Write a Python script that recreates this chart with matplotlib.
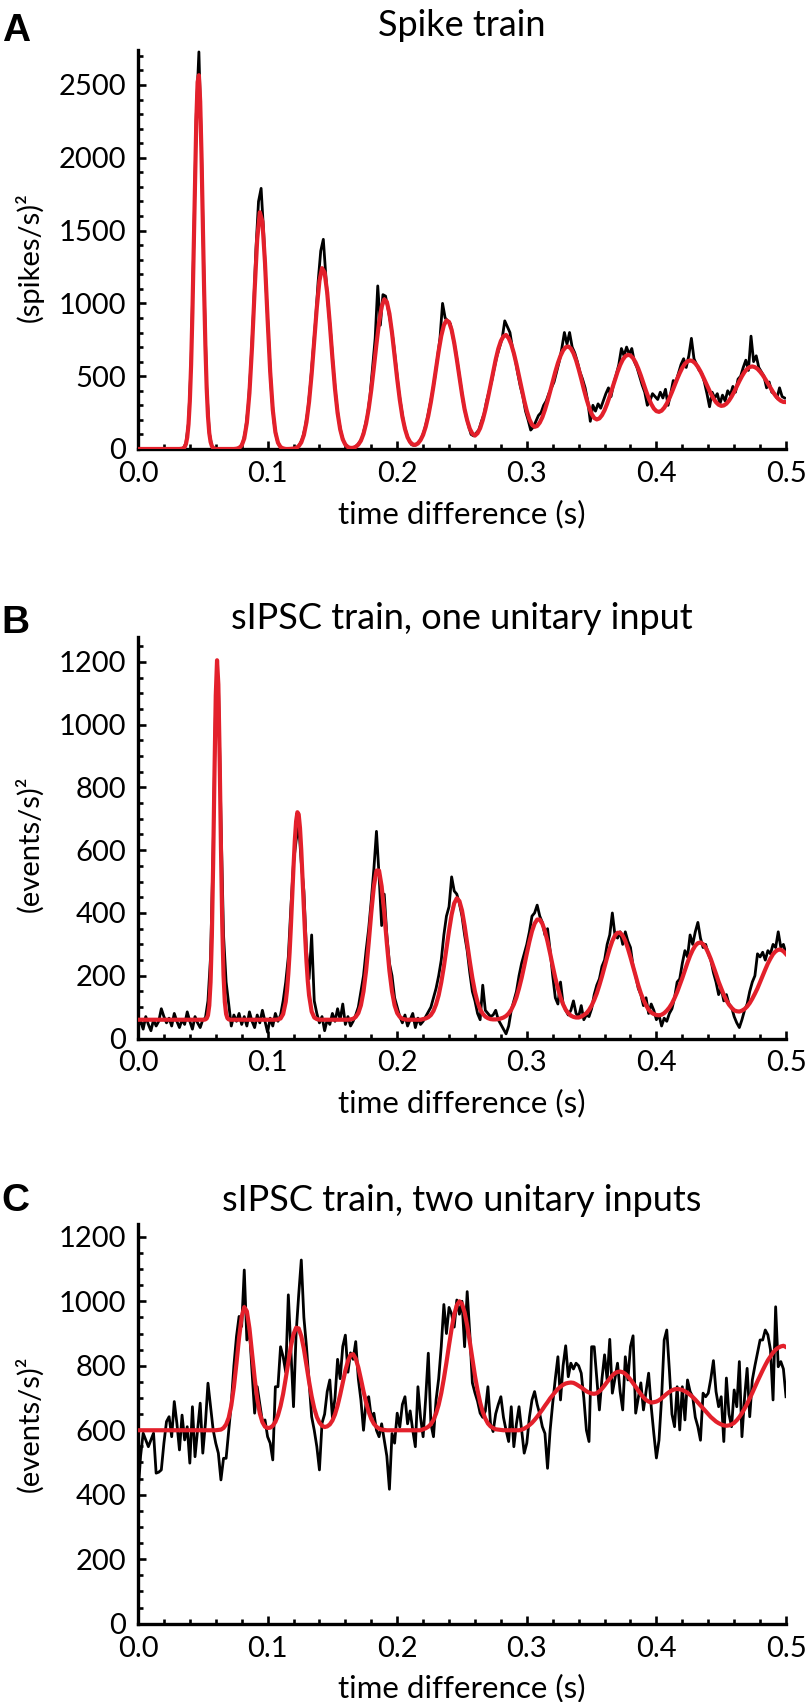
import numpy as np
import matplotlib.pyplot as plt
from matplotlib.ticker import MultipleLocator

plt.rcParams['font.family'] = ['Lato', 'DejaVu Sans']

RED = '#e3202b'


def seg(start, step, n):
    return start + step * np.arange(n)


# ---------------- A: spike train ----------------
# black: autocorrelation, 2 ms bins centred on odd ms
spike_acf = [
    0, 0, 0, 0, 0, 0, 0, 0, 0, 0,
    0, 0, 0, 0, 0, 0, 0, 5, 40, 180,
    600, 1400, 2300, 2727, 2050, 1120, 430, 110, 20, 0,
    0, 0, 0, 0, 0, 0, 0, 0, 5, 15,
    45, 130, 290, 560, 920, 1370, 1700, 1790, 1480, 1080,
    720, 380, 180, 70, 25, 5, 0, 0, 0, 0,
    5, 10, 35, 75, 150, 260, 440, 660, 880, 1150,
    1360, 1440, 1180, 960, 760, 520, 330, 190, 100, 45,
    20, 5, 0, 10, 25, 45, 80, 150, 230, 360,
    560, 760, 1120, 850, 1060, 1050, 960, 860, 740, 580,
    410, 290, 180, 110, 60, 30, 25, 35, 50, 80,
    130, 200, 290, 380, 490, 620, 760, 1000, 900, 880,
    860, 770, 680, 560, 440, 320, 230, 160, 100, 90,
    110, 130, 190, 240, 330, 400, 470, 560, 640, 700,
    760, 880, 840, 800, 690, 620, 520, 430, 360, 260,
    200, 130, 150, 190, 230, 250, 300, 330, 380, 420,
    460, 530, 600, 690, 800, 720, 800, 700, 660, 600,
    530, 480, 420, 330, 190, 300, 260, 310, 280, 330,
    380, 420, 360, 450, 510, 580, 690, 640, 700, 650,
    690, 600, 560, 500, 440, 390, 300, 330, 380, 360,
    340, 390, 350, 410, 300, 380, 470, 460, 520, 580,
    620, 560, 640, 760, 620, 580, 540, 520, 460, 380,
    290, 390, 350, 380, 310, 370, 330, 400, 370, 430,
    390, 480, 500, 560, 610, 540, 775, 600, 640, 560,
    530, 500, 420, 460, 390, 380, 350, 420, 360, 350,
]
spike_t = seg(0.001, 0.002, len(spike_acf))

# red fit, pieces: 2 ms from 0, 1 ms around first peak, 2 ms from 0.064
spike_fit_1 = [0] * 15
spike_fit_2 = [0, 0, 0, 0, 1, 2, 5, 13, 34, 80, 170, 328, 580, 935, 1375, 1843, 2257,
               2520, 2567, 2385, 2021, 1563, 1103, 709, 417, 223, 109, 49, 20, 7, 2, 0, 0, 0]
spike_fit_3 = [
    0, 0, 0, 0, 0, 0, 2, 7, 24, 72,
    180, 385, 702, 1090, 1442, 1626, 1562, 1279, 892, 531,
    269, 116, 43, 13, 4, 0, 0, 1, 3, 7,
    19, 45, 96, 185, 324, 516, 744, 973, 1155, 1242,
    1212, 1073, 861, 627, 414, 248, 135, 66, 30, 13,
    7, 8, 15, 30, 57, 104, 175, 276, 406, 560,
    721, 868, 977, 1028, 1011, 929, 798, 641, 481, 338,
    221, 138, 80, 47, 31, 28, 38, 61, 97, 153,
    228, 323, 434, 555, 674, 777, 850, 883, 872, 818,
    728, 616, 494, 377, 273, 197, 139, 105, 92, 108,
    143, 198, 268, 350, 438, 528, 614, 688, 742, 774,
    783, 761, 719, 658, 583, 500, 415, 333, 261, 204,
    167, 152, 158, 181, 218, 269, 329, 395, 464, 530,
    590, 640, 677, 699, 704, 690, 658, 610, 549, 482,
    411, 345, 287, 241, 213, 203, 210, 232, 266, 311,
    363, 419, 476, 529, 576, 613, 637, 647, 642, 624,
    593, 552, 504, 451, 398, 350, 309, 278, 260, 255,
    263, 283, 312, 349, 391, 436, 481, 522, 558, 585,
    602, 608, 603, 588, 564, 533, 496, 457, 417, 380,
    347, 321, 304, 296, 299, 311, 332, 360, 393, 430,
    466, 500, 529, 550, 563, 567, 562, 550, 531, 508,
    480, 450, 420, 391, 365, 345, 331, 323, 322,
]
spike_fit = spike_fit_1 + spike_fit_2 + spike_fit_3
spike_fit_t = np.concatenate([seg(0.0, 0.002, len(spike_fit_1)),
                              seg(0.029, 0.001, len(spike_fit_2)),
                              seg(0.064, 0.002, len(spike_fit_3))])

# ---------------- B: sIPSC, one unitary input ----------------
one_acf = [
    40, 55, 30, 70, 45, 25, 60, 40, 55, 95,
    70, 50, 65, 40, 80, 55, 35, 60, 45, 85,
    55, 30, 70, 50, 35, 60, 65, 120, 260, 600,
    1100, 1150, 700, 330, 180, 110, 40, 75, 55, 80,
    45, 70, 40, 85, 55, 35, 75, 50, 90, 55,
    20, 65, 40, 80, 55, 75, 120, 180, 260, 420,
    560, 630, 680, 560, 470, 280, 190, 330, 120, 80,
    50, 70, 25, 60, 45, 80, 55, 95, 60, 110,
    45, 70, 40, 55, 75, 100, 150, 200, 280, 350,
    440, 540, 660, 520, 360, 460, 330, 240, 200, 130,
    100, 70, 50, 75, 40, 60, 80, 35, 65, 45,
    55, 70, 85, 100, 130, 160, 200, 250, 330, 390,
    420, 515, 470, 460, 430, 390, 330, 280, 210, 150,
    120, 80, 60, 170, 90, 80, 70, 75, 90, 60,
    45, 30, 15, 40, 90, 120, 150, 200, 240, 270,
    300, 340, 390, 400, 425, 390, 370, 330, 350, 280,
    200, 130, 110, 180, 110, 90, 75, 90, 120, 80,
    70, 105, 60, 75, 70, 95, 140, 170, 190, 230,
    250, 300, 330, 400, 330, 320, 340, 300, 340, 310,
    290, 230, 200, 160, 140, 105, 130, 80, 110, 90,
    60, 75, 40, 65, 55, 80, 95, 130, 180, 190,
    240, 280, 260, 330, 300, 340, 370, 320, 290, 300,
    270, 250, 210, 180, 140, 160, 120, 140, 110, 100,
    70, 50, 35, 60, 90, 110, 150, 180, 200, 270,
    260, 275, 250, 280, 270, 300, 290, 340, 290, 300,
    270,
]
one_t = seg(0.0, 0.002, len(one_acf))

one_fit_1 = [60] * 26
one_fit_2 = [60, 61, 64, 74, 105, 180, 326, 558, 841, 1092, 1205, 1128, 898, 612, 366,
             202, 116, 78, 65, 61, 60]
one_fit_3 = [60] * 18 + [61, 64, 78]
one_fit_4 = [117, 154, 206, 275, 359, 453, 547, 631, 692, 721, 714, 671, 599, 510, 414,
             324, 246, 184, 138]
one_fit_5 = [
    86, 67, 62, 60, 60, 60, 60, 60, 60, 60,
    60, 60, 60, 60, 60, 61, 63, 69, 81, 106,
    150, 216, 304, 401, 485, 535, 535, 485, 401, 304,
    216, 150, 106, 81, 69, 63, 61, 60, 60, 60,
    60, 60, 60, 62, 64, 68, 75, 88, 109, 138,
    179, 229, 286, 344, 395, 431, 447, 438, 408, 360,
    303, 246, 193, 149, 116, 93, 79, 70, 65, 62,
    61, 61, 62, 64, 67, 72, 80, 92, 109, 131,
    160, 193, 231, 271, 309, 342, 366, 379, 379, 366,
    342, 309, 271, 231, 193, 160, 131, 109, 92, 81,
    73, 69, 67, 67, 70, 75, 81, 91, 105, 123,
    144, 170, 198, 229, 259, 287, 311, 328, 337, 337,
    328, 311, 287, 259, 229, 198, 170, 144, 123, 106,
    92, 83, 78, 75, 74, 76, 81, 89, 99, 112,
    129, 148, 170, 193, 218, 242, 264, 282, 296, 304,
    306, 301, 290, 273, 253, 230, 206, 181, 160, 139,
    122, 108, 98, 90, 87, 86, 89, 94, 102, 113,
    127, 143, 160, 180, 200, 220, 239, 255, 269, 278,
    283, 283, 278, 269,
]
one_fit = one_fit_1 + one_fit_2 + one_fit_3 + one_fit_4 + one_fit_5
one_fit_t = np.concatenate([seg(0.0, 0.002, len(one_fit_1)),
                            seg(0.051, 0.001, len(one_fit_2)),
                            seg(0.072, 0.002, len(one_fit_3)),
                            seg(0.114, 0.001, len(one_fit_4)),
                            seg(0.134, 0.002, len(one_fit_5))])

# ---------------- C: sIPSC, two unitary inputs ----------------
two_acf = [
    400, 520, 591, 570, 549, 570, 591, 467, 470, 477,
    560, 627, 642, 580, 689, 622, 539, 647, 570, 611,
    498, 673, 518, 600, 684, 529, 620, 746, 673, 601,
    560, 529, 446, 513, 513, 600, 684, 800, 891, 953,
    922, 1097, 880, 911, 780, 653, 735, 680, 627, 632,
    580, 560, 508, 735, 735, 859, 828, 780, 1020, 850,
    673, 900, 1020, 1128, 950, 859, 750, 642, 600, 549,
    477, 622, 650, 720, 756, 640, 700, 820, 760, 860,
    895, 780, 840, 820, 875, 760, 694, 600, 690, 704,
    640, 653, 600, 580, 620, 569, 520, 417, 590, 560,
    653, 610, 680, 704, 620, 660, 600, 549, 735, 640,
    580, 700, 839, 620, 580, 694, 760, 860, 990, 900,
    981, 960, 920, 1004, 960, 1000, 859, 1030, 900, 747,
    716, 690, 653, 640, 660, 735, 620, 596, 651, 680,
    704, 640, 600, 565, 673, 549, 620, 673, 600, 529,
    560, 640, 694, 720, 680, 650, 611, 590, 482, 600,
    684, 760, 828, 694, 800, 862, 766, 808, 790, 808,
    800, 777, 700, 600, 565, 859, 859, 760, 663, 760,
    834, 756, 882, 715, 760, 808, 720, 663, 828, 756,
    860, 893, 653, 700, 747, 663, 720, 777, 673, 590,
    514, 569, 700, 880, 911, 787, 650, 611, 735, 601,
    735, 632, 756, 720, 704, 640, 611, 569, 715, 704,
    715, 760, 816, 720, 673, 704, 565, 762, 650, 611,
    725, 673, 813, 580, 700, 792, 642, 756, 800, 840,
    880, 880, 911, 896, 850, 694, 983, 797, 813, 790,
    704,
]
two_t = seg(0.0, 0.002, len(two_acf))

two_fit = [600] * 30 + [
    600, 601, 602, 607, 618, 639, 677, 734, 808, 887,
    952, 982, 969, 916, 840, 762, 697, 652, 625, 611,
    607, 608, 614, 626, 646, 675, 713, 761, 812, 861,
    898, 918, 916, 892, 852, 802, 751, 705, 668, 641,
    624, 614, 610, 612, 618, 630, 649, 676, 710, 748,
    785, 815, 833, 836, 822, 795, 759, 721, 686, 657,
    635, 620, 611, 605, 602, 601, 600,
] + [600] * 13 + [
    603, 606, 611, 619, 632, 652, 679, 715, 760, 810,
    864, 915, 959, 988, 1000, 992, 966, 925, 875, 821,
    769, 724, 686, 657, 636, 621, 612, 607, 603, 602,
    601,
] + [600] * 7 + [
    602, 605, 610, 616, 623, 632, 642, 653, 664, 676,
    687, 699, 709, 719, 728, 735, 741, 745, 747, 748,
    747, 743, 738, 733, 727, 721, 717, 714, 713, 715,
    721, 729, 739, 750, 760, 770, 777, 781, 782, 780,
    775, 767, 757, 746, 735, 723, 712, 702, 694, 689,
    686, 687, 689, 693, 699, 706, 713, 719, 724, 727,
    728, 727, 725, 721, 716, 710, 703, 695, 686, 677,
    668, 659, 650, 641, 634, 627, 622, 618, 615, 614,
    615, 618, 623, 631, 641, 653, 667, 682, 699, 716,
    734, 752, 769, 786, 802, 817, 829, 841, 850, 856,
    860, 862, 858,
]
two_fit_t = seg(0.0, 0.002, len(two_fit))

# ---------------- figure ----------------
fig = plt.figure(figsize=(8.06, 17.02), dpi=100)

panels = [
    # letter, rect, black, red, ymax, major, minor, ylabel, title, title offset, ylabel y
    ('A', [0.1712, 0.7362, 0.8040, 0.2344], (spike_t, spike_acf), (spike_fit_t, spike_fit),
     2740, 500, 100, '(spikes/s)²', 'Spike train', 10.3, 0.48, 1 - 41 / 1702),
    ('B', [0.1712, 0.3898, 0.8040, 0.2361], (one_t, one_acf), (one_fit_t, one_fit),
     1280, 200, 50, '(events/s)²', 'sIPSC train, one unitary input', 5.2, 0.484, 1 - 633 / 1702),
    ('C', [0.1712, 0.0460, 0.8040, 0.2349], (two_t, two_acf), (two_fit_t, two_fit),
     1240, 200, 50, '(events/s)²', 'sIPSC train, two unitary inputs', 9.4, 0.50, 1 - 1211 / 1702),
]

for letter, rect, black, red, ymax, ymaj, ymin, ylab, title, toff, ly, lety in panels:
    ax = fig.add_axes(rect)
    ax.plot(black[0], black[1], color='black', lw=2.0, zorder=2)
    ax.plot(red[0], red[1], color=RED, lw=3.0, zorder=3)
    ax.set_xlim(0, 0.5)
    ax.set_ylim(0, ymax)
    for s in ['top', 'right']:
        ax.spines[s].set_visible(False)
    for s in ['left', 'bottom']:
        ax.spines[s].set_linewidth(2.4)
    ax.xaxis.set_major_locator(MultipleLocator(0.1))
    ax.xaxis.set_minor_locator(MultipleLocator(0.02))
    ax.yaxis.set_major_locator(MultipleLocator(ymaj))
    ax.yaxis.set_minor_locator(MultipleLocator(ymin))
    ax.tick_params(which='both', direction='in', width=1.9, labelsize=21, pad=8.5)
    ax.tick_params(which='major', length=6)
    ax.tick_params(which='minor', length=3.5)
    ax.set_ylabel(ylab, fontsize=21)
    ax.yaxis.set_label_coords(-0.1455, ly)
    ax.annotate(title, xy=(0.5, 1), xycoords='axes fraction', xytext=(0, toff),
                textcoords='offset points', ha='center', va='baseline', fontsize=26)
    ax.annotate('time difference (s)', xy=(0.5, 0), xycoords='axes fraction',
                xytext=(0, -53.3), textcoords='offset points', ha='center',
                va='baseline', fontsize=22.5)
    fig.text(0.002, lety, letter, fontsize=28, fontweight='bold',
             family=['Liberation Sans', 'DejaVu Sans'], va='baseline', ha='left')

fig.savefig('out.png', dpi=100)
